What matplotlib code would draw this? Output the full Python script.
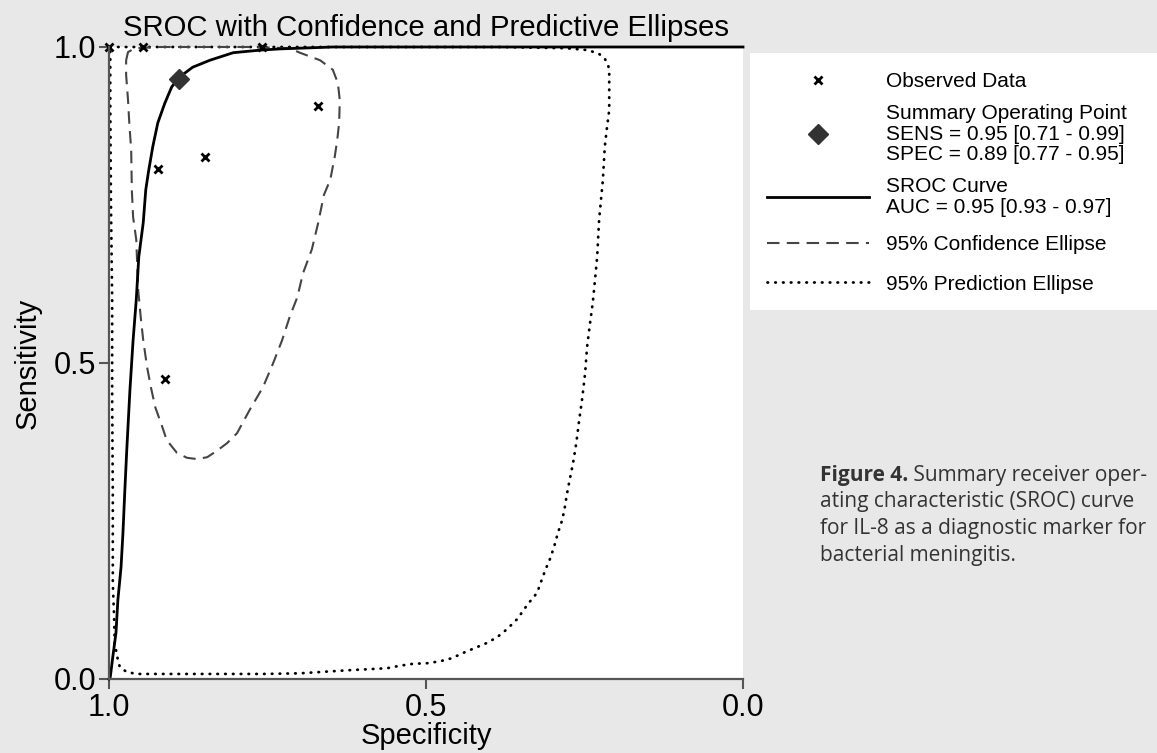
import matplotlib.pyplot as plt
from matplotlib.lines import Line2D
from matplotlib.patches import Rectangle

plt.rcParams['font.family'] = ['Liberation Sans', 'DejaVu Sans']

# observed studies (specificity, sensitivity)
obs_spec = [1.000, 0.946, 0.759, 0.670, 0.849, 0.923, 0.912]
obs_sens = [1.000, 1.000, 1.000, 0.907, 0.826, 0.807, 0.475]

# summary operating point
sum_spec = 0.89
sum_sens = 0.95

# SROC curve
sroc_spec = [1.000, 0.998, 0.994, 0.989, 0.986, 0.981, 0.978, 0.975, 0.972, 0.967,
             0.962, 0.957, 0.953, 0.946, 0.942, 0.938, 0.931, 0.923, 0.912, 0.901,
             0.888, 0.868, 0.841, 0.804, 0.762, 0.730, 0.647, 0.000]
sroc_sens = [0.000, 0.003, 0.035, 0.073, 0.125, 0.177, 0.231, 0.299, 0.362, 0.457,
             0.536, 0.600, 0.668, 0.722, 0.774, 0.801, 0.842, 0.880, 0.911, 0.937,
             0.953, 0.968, 0.979, 0.991, 0.995, 0.997, 1.000, 1.000]

# 95% confidence ellipse
conf_spec = [0.973, 0.970, 0.959, 0.920, 0.856, 0.778, 0.715, 0.699, 0.667, 0.647,
             0.639, 0.636, 0.637, 0.640, 0.644, 0.651, 0.661, 0.670, 0.680, 0.694,
             0.703, 0.715, 0.727, 0.741, 0.757, 0.778, 0.798, 0.814, 0.830, 0.845,
             0.861, 0.877, 0.893, 0.909, 0.916, 0.927, 0.934, 0.940, 0.946, 0.950,
             0.954, 0.957, 0.962, 0.964, 0.965, 0.968, 0.970, 0.973, 0.973]
conf_sens = [0.979, 0.992, 0.998, 1.000, 1.000, 1.000, 0.998, 0.991, 0.979, 0.964,
             0.943, 0.916, 0.880, 0.853, 0.826, 0.790, 0.766, 0.722, 0.680, 0.642,
             0.604, 0.573, 0.536, 0.500, 0.462, 0.426, 0.389, 0.373, 0.361, 0.351,
             0.348, 0.350, 0.358, 0.378, 0.399, 0.430, 0.462, 0.494, 0.536, 0.573,
             0.616, 0.695, 0.731, 0.774, 0.837, 0.880, 0.916, 0.956, 0.979]

# 95% prediction ellipse
pred_spec = [0.998, 0.856, 0.699, 0.541, 0.383, 0.278, 0.244, 0.227, 0.219, 0.213,
             0.211, 0.211, 0.211, 0.215, 0.218, 0.221, 0.224, 0.227, 0.230, 0.233,
             0.237, 0.241, 0.246, 0.249, 0.254, 0.259, 0.263, 0.268, 0.274, 0.278,
             0.281, 0.285, 0.292, 0.298, 0.304, 0.312, 0.325, 0.339, 0.356, 0.372,
             0.388, 0.404, 0.423, 0.442, 0.459, 0.478, 0.498, 0.521, 0.541, 0.562,
             0.620, 0.699, 0.757, 0.856, 0.956, 0.972, 0.983, 0.987, 0.991, 0.992,
             0.994, 0.994, 0.994, 0.995, 0.995, 0.997, 0.998, 0.998]
pred_sens = [1.000, 1.000, 1.000, 1.000, 1.000, 0.998, 0.995, 0.989, 0.983, 0.973,
             0.962, 0.932, 0.900, 0.869, 0.842, 0.790, 0.758, 0.726, 0.668, 0.636,
             0.595, 0.565, 0.525, 0.484, 0.441, 0.405, 0.373, 0.342, 0.312, 0.291,
             0.272, 0.252, 0.231, 0.209, 0.191, 0.172, 0.136, 0.119, 0.095, 0.079,
             0.066, 0.057, 0.049, 0.041, 0.033, 0.028, 0.025, 0.024, 0.021, 0.017,
             0.014, 0.009, 0.008, 0.008, 0.008, 0.011, 0.019, 0.035, 0.057, 0.098,
             0.152, 0.204, 0.294, 0.441, 0.600, 0.758, 0.916, 1.000]

ticks = [1.0, 0.5, 0.0]
tick_labels = ['1.0', '0.5', '0.0']

legend_labels = [
    'Observed Data',
    'Summary Operating Point\nSENS = 0.95 [0.71 - 0.99]\nSPEC = 0.89 [0.77 - 0.95]',
    'SROC Curve\nAUC = 0.95 [0.93 - 0.97]',
    '95% Confidence Ellipse',
    '95% Prediction Ellipse',
]

caption_lines = ['ating characteristic (SROC) curve',
                 'for IL-8 as a diagnostic marker for',
                 'bacterial meningitis.']

# %%
bg = '#e8e8e8'
spine_col = '#555555'
dot_style = (0, (0.2, 2.6))
dash_style = (0, (6, 3.5))

fig = plt.figure(figsize=(11.57, 7.53), dpi=100, facecolor=bg)
ax = fig.add_axes([109 / 1157, 1 - 679 / 753, 634 / 1157, 632 / 753])
ax.set_facecolor('white')

ax.plot(pred_spec, pred_sens, color='black', lw=2.0,
        linestyle=dot_style, dash_capstyle='round', clip_on=False)
ax.plot(conf_spec, conf_sens, color='#444444', lw=1.5,
        linestyle=dash_style, clip_on=False)
ax.plot(sroc_spec, sroc_sens, color='black', lw=2.0, clip_on=False)
ax.plot(obs_spec, obs_sens, ls='none', marker='x', color='black',
        ms=6, mew=2, clip_on=False)
ax.plot([sum_spec], [sum_sens], ls='none', marker='D', color='#333333',
        ms=10, clip_on=False)

ax.set_xlim(1, 0)
ax.set_ylim(0, 1)
ax.set_xticks(ticks)
ax.set_xticklabels(tick_labels)
ax.set_yticks(ticks)
ax.set_yticklabels(tick_labels)
ax.tick_params(length=7, width=1.5, color=spine_col, labelsize=22, pad=2)
ax.tick_params(axis='x', pad=3)
for s in ['top', 'right']:
    ax.spines[s].set_visible(False)
for s in ['left', 'bottom']:
    ax.spines[s].set_color(spine_col)
    ax.spines[s].set_linewidth(1.6)

ax.set_xlabel('Specificity', fontsize=21, labelpad=-1)
ax.set_ylabel('Sensitivity', fontsize=21, labelpad=9)
ax.set_title('SROC with Confidence and Predictive Ellipses', fontsize=21.2, pad=8)

# legend box
fig.patches.append(Rectangle((750 / 1157, 1 - 310 / 753), 407 / 1157, 257 / 753,
                             transform=fig.transFigure, facecolor='white',
                             edgecolor='none', zorder=0))
handles = [
    Line2D([], [], ls='none', marker='x', color='black', ms=6, mew=2),
    Line2D([], [], ls='none', marker='D', color='#333333', ms=10),
    Line2D([], [], color='black', lw=2.0),
    Line2D([], [], color='#444444', lw=1.5, linestyle=dash_style),
    Line2D([], [], color='black', lw=2.0, linestyle=dot_style,
           dash_capstyle='round'),
]
leg_kw = dict(loc='upper left', frameon=False, fontsize=15, handlelength=4.9,
              handletextpad=0.8, borderpad=0, borderaxespad=0, numpoints=1)
leg1 = fig.legend(handles[:3], legend_labels[:3],
                  bbox_to_anchor=(767 / 1157, 1 - 72 / 753),
                  labelspacing=0.63, **leg_kw)
for t in leg1.get_texts():
    t.set_linespacing(1.1)
leg2 = fig.legend(handles[3:], legend_labels[3:],
                  bbox_to_anchor=(767 / 1157, 1 - 235 / 753),
                  labelspacing=0.99, **leg_kw)

# caption
cap_font = ['Open Sans', 'DejaVu Sans']
cap_col = '#333333'
cap_x = 820 / 1157
bold = fig.text(cap_x, 1 - 475 / 753, 'Figure 4.', fontsize=15, fontweight='bold',
                family=cap_font, color=cap_col, va='center')
ax.annotate(' Summary receiver oper-', xy=(1, 0), xycoords=bold,
            ha='left', va='bottom', fontsize=15, family=cap_font, color=cap_col,
            annotation_clip=False)
for i, line in enumerate(caption_lines):
    fig.text(cap_x, 1 - (502 + 26.7 * i) / 753, line, fontsize=15,
             family=cap_font, color=cap_col, va='center')

fig.savefig('out.png', dpi=100, facecolor=bg)
